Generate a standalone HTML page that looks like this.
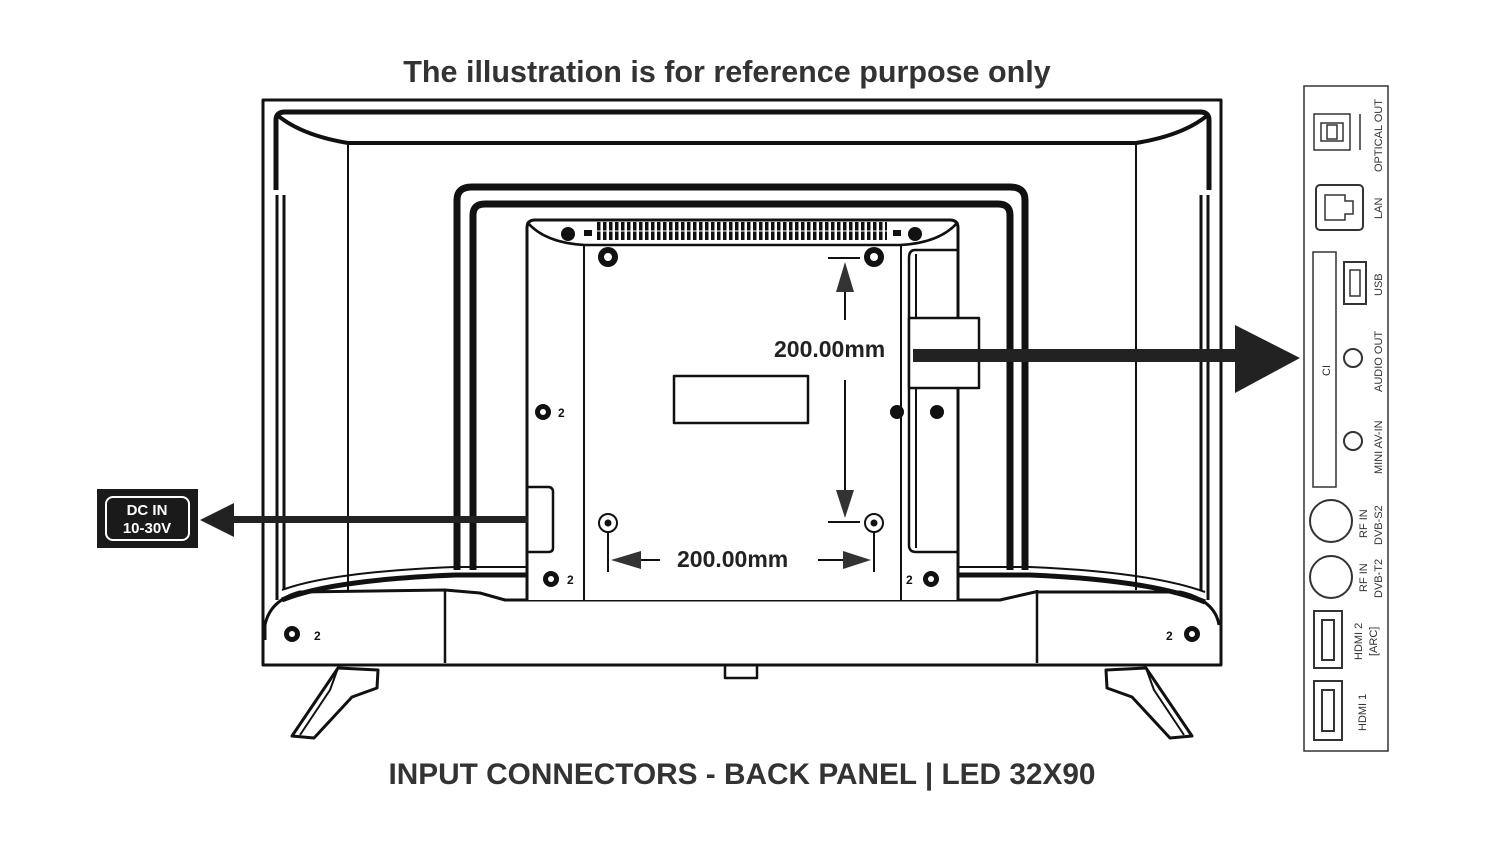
<!DOCTYPE html>
<html><head><meta charset="utf-8"><style>
html,body{margin:0;padding:0;background:#fff;width:1500px;height:844px;overflow:hidden}
svg{display:block}
text{font-family:"Liberation Sans",sans-serif}
</style></head><body>
<svg width="1500" height="844" viewBox="0 0 1500 844" xmlns="http://www.w3.org/2000/svg">
<defs>
<pattern id="vent" x="597" y="0" width="6" height="40" patternUnits="userSpaceOnUse">
<rect x="0" y="0" width="3.5" height="40" fill="#111"/>
</pattern>
</defs>
<g fill="none" stroke="#111" stroke-linejoin="round">
<rect x="263" y="100" width="958" height="565" stroke-width="3"/>
<path d="M276 190 L276 120 Q276 112 285 112 L1200 112 Q1209 112 1209 120 L1209 190" stroke-width="5"/>
<path d="M276 114 Q300 135 348 143 L1136 143 Q1185 135 1209 114" stroke-width="4"/>
<line x1="348" y1="143" x2="348" y2="590" stroke-width="2"/>
<line x1="1136" y1="143" x2="1136" y2="590" stroke-width="2"/>
<line x1="277" y1="195" x2="277" y2="600" stroke-width="3"/>
<line x1="284" y1="195" x2="284" y2="590" stroke-width="3"/>
<line x1="1208" y1="195" x2="1208" y2="600" stroke-width="3"/>
<line x1="1201" y1="195" x2="1201" y2="590" stroke-width="3"/>
<path d="M457 570 L457 200 Q457 187 472 187 L1010 187 Q1025 187 1025 200 L1025 570" stroke-width="7"/>
<path d="M473 570 L473 215 Q473 204 485 204 L998 204 Q1010 204 1010 215 L1010 570" stroke-width="7"/>
<path d="M282 600 Q330 580 455 575 L1030 575 Q1150 580 1205 602" stroke-width="5"/>
<path d="M282 590 Q330 572 455 567 L1030 567 Q1150 572 1205 592" stroke-width="2"/>
<path d="M265 640 L265 625 Q270 600 300 592 L445 590 L480 593 L505 600 L1000 600 L1035 592 L1180 592 Q1215 600 1219 625" stroke-width="3"/>
<line x1="445" y1="590" x2="445" y2="663" stroke-width="2.5"/>
<line x1="1037" y1="590" x2="1037" y2="663" stroke-width="2.5"/>
<path d="M527 600 L527 228 Q527 220 535 220 L950 220 Q958 220 958 228 L958 600" stroke-width="3" fill="#fff"/>
<path d="M527 222 Q545 243 585 245 L900 245 Q940 243 958 222" stroke-width="2.5"/>
<line x1="584" y1="245" x2="584" y2="600" stroke-width="2"/>
<line x1="901" y1="245" x2="901" y2="600" stroke-width="2"/>
<rect x="674" y="376" width="134" height="47" stroke-width="2.5"/>
<path d="M958 250 L915 250 Q909 250 909 258 L909 545 Q909 552 916 552 L958 552" stroke-width="2.5"/>
<path d="M916 254 L916 548" stroke-width="2"/>
<rect x="909" y="318" width="70" height="70" stroke-width="2.5" fill="#fff"/>
<path d="M527 487 L548 487 Q553 487 553 492 L553 548 Q553 552 548 552 L527 552" stroke-width="2.5"/>
<path d="M338 668 L378 670 L377 688 L352 697 L314 738 L292 736 Z" stroke-width="3"/>
<path d="M338 668 L330 690 L300 735" stroke-width="2"/>
<path d="M1146 668 L1106 670 L1107 688 L1132 697 L1170 738 L1192 736 Z" stroke-width="3"/>
<path d="M1146 668 L1154 690 L1184 735" stroke-width="2"/>
<rect x="725" y="665" width="32" height="13" stroke-width="2.5"/>
</g>
<rect x="597" y="222" width="290" height="18" fill="url(#vent)"/>
<line x1="597" y1="231" x2="887" y2="231" stroke="#fff" stroke-width="1"/>
<rect x="584" y="230" width="8" height="6" fill="#111"/><rect x="893" y="230" width="8" height="6" fill="#111"/>
<g fill="#111">
<circle cx="568" cy="234" r="7"/><circle cx="915" cy="234" r="7"/>
<circle cx="608" cy="257" r="10"/><circle cx="874" cy="257" r="10"/>
<circle cx="543" cy="412" r="8"/><circle cx="897" cy="412" r="7"/><circle cx="937" cy="412" r="7"/>
<circle cx="551" cy="579" r="8"/><circle cx="931" cy="579" r="8"/>
<circle cx="292" cy="634" r="8"/><circle cx="1192" cy="634" r="8"/>
<circle cx="608" cy="523" r="3.5"/><circle cx="874" cy="523" r="3.5"/>
</g>
<g fill="#fff"><circle cx="608" cy="257" r="4"/><circle cx="874" cy="257" r="4"/><circle cx="543" cy="412" r="3"/><circle cx="551" cy="579" r="3"/><circle cx="931" cy="579" r="3"/><circle cx="292" cy="634" r="3"/><circle cx="1192" cy="634" r="3"/></g>
<g fill="none" stroke="#111" stroke-width="2"><circle cx="608" cy="523" r="9"/><circle cx="874" cy="523" r="9"/></g>
<g font-size="12" font-weight="bold" fill="#111"><text x="558" y="417">2</text><text x="314" y="640">2</text><text x="1166" y="640">2</text><text x="567" y="584">2</text><text x="906" y="584">2</text></g>
<g stroke="#111" stroke-width="2">
<line x1="845" y1="275" x2="845" y2="320"/><line x1="845" y1="380" x2="845" y2="500"/>
<line x1="828" y1="258" x2="860" y2="258"/><line x1="828" y1="522" x2="860" y2="522"/>
<line x1="608" y1="532" x2="608" y2="572"/><line x1="874" y1="532" x2="874" y2="572"/>
<line x1="640" y1="560" x2="660" y2="560"/><line x1="818" y1="560" x2="845" y2="560"/>
</g>
<g fill="#333">
<polygon points="845,262 836,292 854,292"/><polygon points="845,518 836,490 854,490"/>
<polygon points="611,560 641,551 641,569"/><polygon points="871,560 843,551 843,569"/>
</g>
<text x="774" y="357" font-size="23" font-weight="bold" fill="#222">200.00mm</text>
<text x="677" y="567" font-size="23" font-weight="bold" fill="#222">200.00mm</text>
<rect x="913" y="349" width="327" height="13" fill="#222"/>
<polygon points="1235,325 1300,358 1235,393" fill="#222"/>
<rect x="230" y="516" width="298" height="7" fill="#222"/>
<polygon points="200,520 234,503 234,537" fill="#222"/>
<rect x="97" y="489" width="101" height="59" fill="#1a1a1a"/>
<rect x="106" y="497" width="83" height="43" rx="7" fill="none" stroke="#fff" stroke-width="2"/>
<text x="147" y="515" font-size="15" font-weight="bold" fill="#fff" text-anchor="middle">DC IN</text>
<text x="147" y="533" font-size="15" font-weight="bold" fill="#fff" text-anchor="middle">10-30V</text>
<text x="727" y="82" font-size="30.5" font-weight="bold" fill="#333" text-anchor="middle">The illustration is for reference purpose only</text>
<text x="742" y="784" font-size="29.8" font-weight="bold" fill="#333" text-anchor="middle">INPUT CONNECTORS - BACK PANEL | LED 32X90</text>
<g fill="none" stroke="#333" stroke-width="1.5">
<rect x="1304" y="86" width="84" height="665"/>
<rect x="1314" y="114" width="36" height="36"/><line x1="1360" y1="114" x2="1360" y2="150"/>
<rect x="1321" y="123" width="22" height="18"/><rect x="1327" y="125" width="10" height="14"/>
<rect x="1316" y="185" width="47" height="45" rx="4" stroke-width="2"/>
<path d="M1325 195 L1345 195 L1345 201 L1353 201 L1353 214 L1345 214 L1345 220 L1325 220 Z"/>
<rect x="1313" y="252" width="23" height="235"/>
<rect x="1344" y="262" width="22" height="42" stroke-width="2"/><rect x="1350" y="270" width="10" height="26"/>
<circle cx="1353" cy="358" r="9" stroke-width="2"/><circle cx="1353" cy="441" r="9" stroke-width="2"/>
<circle cx="1331" cy="521" r="21" stroke-width="2"/><circle cx="1331" cy="577" r="21" stroke-width="2"/>
<path d="M1314 611 L1342 611 L1342 668 L1314 668 Z M1322 620 L1334 620 L1334 660 L1322 660 Z" stroke-width="2"/>
<path d="M1314 681 L1342 681 L1342 740 L1314 740 Z M1322 690 L1334 690 L1334 731 L1322 731 Z" stroke-width="2"/>
</g>
<g font-size="11" fill="#333">
<text transform="translate(1382,172) rotate(-90)">OPTICAL OUT</text>
<text transform="translate(1382,219) rotate(-90)">LAN</text>
<text transform="translate(1382,296) rotate(-90)">USB</text>
<text transform="translate(1382,392) rotate(-90)">AUDIO OUT</text>
<text transform="translate(1382,474) rotate(-90)">MINI AV-IN</text>
<text transform="translate(1330,376) rotate(-90)">CI</text>
<text transform="translate(1367,538) rotate(-90)">RF IN</text>
<text transform="translate(1382,545) rotate(-90)">DVB-S2</text>
<text transform="translate(1367,592) rotate(-90)">RF IN</text>
<text transform="translate(1382,598) rotate(-90)">DVB-T2</text>
<text transform="translate(1362,660) rotate(-90)">HDMI 2</text>
<text transform="translate(1377,656) rotate(-90)">[ARC]</text>
<text transform="translate(1366,731) rotate(-90)">HDMI 1</text>
</g>
</svg>
</body></html>
